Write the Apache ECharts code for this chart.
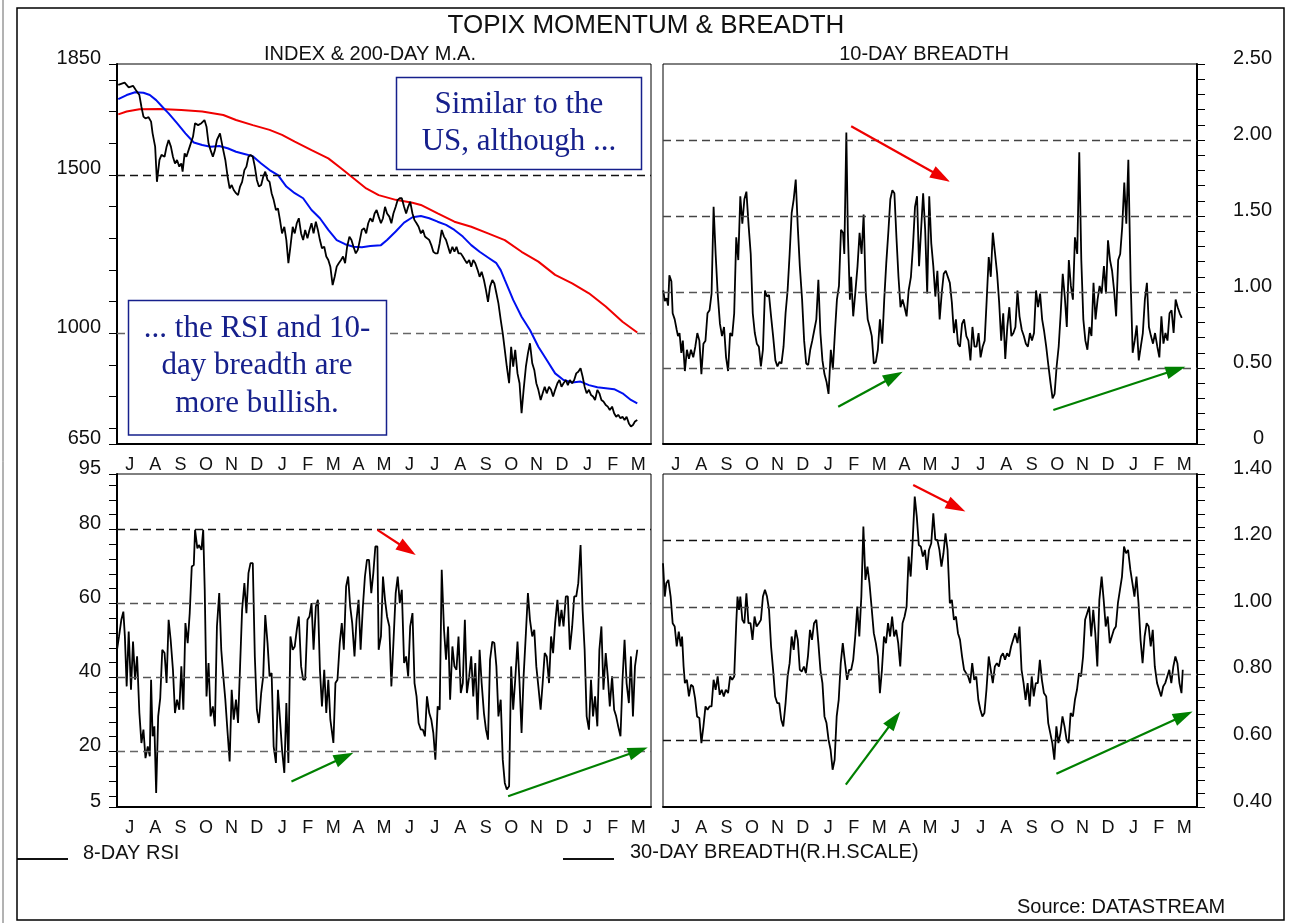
<!DOCTYPE html>
<html>
<head>
<meta charset="utf-8">
<title>TOPIX Momentum & Breadth</title>
<script src="https://cdn.jsdelivr.net/npm/echarts@6.0.0/dist/echarts.min.js"></script>
<style>
  html, body { margin: 0; padding: 0; background: #fff; }
  #chart { width: 1294px; height: 923px; }
</style>
</head>
<body>
<div id="chart"></div>
<script>
// month letters, July .. March (21 months)
const months = ['J','A','S','O','N','D','J','F','M','A','M','J','J','A','S','O','N','D','J','F','M'];

// axis ticks and labels
const indexTicks = [650,700,800,900,1000,1100,1200,1300,1400,1500,1600,1700,1800,1850];
const indexLabels = [650,1000,1500,1850];
const indexRefLines = [1500,1000];
const breadth10Ticks = [0,0.1,0.2,0.3,0.4,0.5,0.6,0.7,0.8,0.9,1,1.1,1.2,1.3,1.4,1.5,1.6,1.7,1.8,1.9,2,2.1,2.2,2.3,2.4,2.5];
const breadth10Labels = [0,0.5,1,1.5,2,2.5];
const breadth10RefLines = [2,1.5,1,0.5];
const rsiTicks = [5,8,12,16,20,24,28,32,36,40,44,48,52,56,60,64,68,72,76,80,84,88,92,95];
const rsiLabels = [5,20,40,60,80,95];
const rsiRefLines = [80,60,40,20];
const breadth30Ticks = [0.4,0.44,0.48,0.52,0.56,0.6,0.64,0.68,0.72,0.76,0.8,0.84,0.88,0.92,0.96,1,1.04,1.08,1.12,1.16,1.2,1.24,1.28,1.32,1.36,1.4];
const breadth30Labels = [0.4,0.6,0.8,1,1.2,1.4];
const breadth30RefLines = [1.2,1,0.8,0.6];

// series, as [months since start of July, value]
const topixIndex = [[0.05,1784],[0.30,1791],[0.46,1776],[0.63,1781],[0.74,1768],[0.88,1752],[0.96,1715],[1.04,1684],[1.12,1678],[1.24,1682],[1.34,1668],[1.40,1631],[1.50,1589],[1.57,1478],[1.67,1547],[1.75,1563],[1.87,1557],[1.95,1589],[2.03,1610],[2.12,1589],[2.20,1557],[2.28,1536],[2.36,1547],[2.45,1526],[2.53,1536],[2.58,1510],[2.66,1568],[2.73,1557],[2.86,1589],[2.99,1621],[3.07,1663],[3.19,1657],[3.32,1663],[3.44,1673],[3.52,1652],[3.60,1599],[3.68,1578],[3.77,1557],[3.85,1578],[3.93,1610],[4.05,1631],[4.15,1589],[4.26,1547],[4.35,1494],[4.43,1457],[4.51,1468],[4.59,1452],[4.68,1442],[4.76,1436],[4.84,1463],[4.92,1478],[5.01,1515],[5.09,1526],[5.17,1557],[5.25,1563],[5.34,1557],[5.42,1526],[5.50,1484],[5.58,1463],[5.67,1468],[5.75,1494],[5.83,1510],[5.92,1484],[6.00,1478],[6.08,1442],[6.16,1421],[6.25,1389],[6.33,1394],[6.41,1357],[6.49,1315],[6.58,1336],[6.66,1294],[6.74,1221],[6.82,1273],[6.91,1336],[6.99,1315],[7.07,1347],[7.15,1363],[7.24,1315],[7.32,1294],[7.40,1326],[7.49,1300],[7.57,1326],[7.65,1347],[7.73,1315],[7.82,1352],[7.90,1326],[7.98,1294],[8.06,1268],[8.15,1273],[8.23,1242],[8.31,1231],[8.39,1210],[8.48,1152],[8.56,1178],[8.64,1210],[8.72,1221],[8.81,1231],[8.89,1242],[8.97,1221],[9.05,1273],[9.14,1305],[9.22,1294],[9.30,1273],[9.39,1252],[9.47,1263],[9.55,1294],[9.63,1326],[9.72,1331],[9.80,1315],[9.88,1347],[9.96,1363],[10.05,1352],[10.13,1378],[10.21,1389],[10.29,1368],[10.38,1347],[10.46,1363],[10.54,1399],[10.62,1378],[10.71,1368],[10.79,1347],[10.87,1378],[10.96,1399],[11.04,1421],[11.12,1426],[11.20,1426],[11.29,1399],[11.37,1378],[11.45,1399],[11.53,1415],[11.62,1378],[11.70,1357],[11.78,1347],[11.86,1336],[11.95,1315],[12.03,1326],[12.11,1305],[12.19,1300],[12.28,1294],[12.36,1278],[12.44,1257],[12.52,1252],[12.61,1252],[12.69,1284],[12.77,1326],[12.86,1305],[12.94,1294],[13.02,1273],[13.10,1252],[13.19,1273],[13.27,1257],[13.35,1273],[13.43,1252],[13.52,1252],[13.60,1242],[13.68,1231],[13.76,1221],[13.85,1231],[13.93,1210],[14.01,1231],[14.09,1221],[14.18,1200],[14.26,1178],[14.34,1194],[14.43,1168],[14.51,1136],[14.59,1099],[14.67,1147],[14.76,1168],[14.84,1157],[14.92,1126],[15.00,1094],[15.09,1042],[15.17,999],[15.25,947],[15.33,894],[15.42,842],[15.50,957],[15.58,894],[15.66,947],[15.75,873],[15.83,842],[15.91,747],[15.99,821],[16.08,894],[16.16,936],[16.24,968],[16.33,905],[16.41,884],[16.49,842],[16.57,821],[16.66,789],[16.74,810],[16.82,831],[16.90,810],[16.99,831],[17.07,821],[17.15,800],[17.23,821],[17.32,842],[17.40,852],[17.48,831],[17.56,842],[17.65,852],[17.73,836],[17.81,852],[17.90,842],[17.98,852],[18.06,873],[18.14,878],[18.23,889],[18.31,863],[18.39,831],[18.47,810],[18.56,821],[18.64,805],[18.72,800],[18.80,789],[18.89,821],[18.97,810],[19.05,789],[19.13,784],[19.22,773],[19.30,768],[19.38,757],[19.47,768],[19.55,747],[19.63,736],[19.71,742],[19.80,731],[19.88,736],[19.96,726],[20.04,736],[20.13,715],[20.21,705],[20.29,710],[20.37,721],[20.46,726]];
const ma200 = [[0.05,1691],[0.38,1700],[0.88,1707],[1.70,1708],[2.53,1705],[3.35,1700],[4.18,1689],[4.68,1673],[5.34,1657],[6.00,1642],[6.49,1626],[6.99,1605],[7.65,1578],[8.31,1552],[8.81,1521],[9.30,1489],[9.80,1457],[10.29,1436],[10.96,1421],[11.62,1412],[11.95,1405],[12.61,1378],[13.27,1352],[13.93,1336],[14.59,1315],[15.25,1294],[15.91,1257],[16.57,1226],[17.23,1184],[17.90,1157],[18.56,1126],[19.22,1084],[19.88,1036],[20.46,1002]];
const maShort = [[0.05,1739],[0.38,1752],[0.71,1761],[1.04,1759],[1.29,1752],[1.54,1736],[1.78,1715],[2.03,1694],[2.36,1663],[2.69,1631],[3.02,1602],[3.35,1594],[3.68,1589],[4.02,1591],[4.35,1584],[4.68,1573],[5.01,1566],[5.34,1559],[5.67,1536],[6.00,1515],[6.33,1499],[6.66,1463],[6.99,1442],[7.32,1426],[7.65,1389],[7.98,1363],[8.31,1326],[8.64,1294],[8.97,1281],[9.30,1273],[9.63,1271],[9.96,1275],[10.38,1278],[10.62,1294],[10.96,1321],[11.29,1349],[11.62,1366],[11.95,1370],[12.28,1363],[12.61,1352],[12.94,1342],[13.27,1326],[13.60,1305],[13.93,1278],[14.26,1257],[14.59,1239],[14.92,1221],[15.09,1199],[15.25,1168],[15.42,1136],[15.58,1105],[15.91,1052],[16.24,1010],[16.57,957],[16.90,915],[17.23,873],[17.56,852],[17.90,844],[18.23,847],[18.56,836],[18.89,829],[19.22,826],[19.55,823],[19.88,810],[20.21,789],[20.46,778]];
const breadth10 = [[0.01,1.01],[0.07,0.94],[0.14,0.96],[0.20,0.91],[0.25,1.11],[0.33,1.07],[0.38,0.86],[0.46,0.82],[0.54,0.75],[0.59,0.71],[0.65,0.73],[0.72,0.60],[0.78,0.68],[0.86,0.48],[0.94,0.62],[1.02,0.56],[1.10,0.62],[1.19,0.57],[1.27,0.64],[1.35,0.73],[1.43,0.68],[1.51,0.46],[1.59,0.66],[1.67,0.68],[1.75,0.86],[1.83,0.88],[1.91,0.99],[1.99,1.56],[2.07,1.25],[2.15,0.99],[2.24,0.79],[2.32,0.71],[2.40,0.77],[2.48,0.57],[2.56,0.48],[2.64,0.73],[2.72,0.71],[2.80,0.86],[2.88,1.36],[2.96,1.21],[3.04,1.63],[3.12,1.45],[3.20,1.61],[3.28,1.66],[3.37,1.43],[3.45,1.25],[3.53,0.86],[3.61,0.73],[3.69,0.66],[3.77,0.64],[3.85,0.51],[3.93,0.62],[4.01,1.01],[4.09,0.97],[4.17,0.98],[4.25,0.84],[4.33,0.71],[4.42,0.55],[4.50,0.51],[4.58,0.54],[4.66,0.53],[4.74,0.64],[4.82,0.86],[4.90,1.01],[4.98,1.25],[5.06,1.52],[5.14,1.61],[5.22,1.74],[5.30,1.43],[5.38,1.17],[5.47,0.95],[5.55,0.68],[5.63,0.53],[5.71,0.52],[5.79,0.62],[5.87,0.68],[5.95,0.75],[6.03,0.82],[6.11,1.08],[6.19,0.73],[6.27,0.55],[6.35,0.46],[6.43,0.41],[6.51,0.33],[6.60,0.62],[6.68,0.49],[6.76,0.73],[6.84,0.95],[6.92,1.04],[7.00,1.41],[7.08,1.39],[7.13,1.25],[7.21,2.05],[7.27,1.39],[7.35,0.95],[7.40,1.10],[7.48,0.84],[7.56,0.99],[7.65,1.17],[7.73,1.39],[7.81,1.25],[7.89,1.51],[7.97,1.01],[8.05,0.82],[8.13,0.77],[8.21,0.71],[8.29,0.53],[8.37,0.54],[8.45,0.62],[8.53,0.82],[8.62,0.66],[8.70,0.95],[8.78,1.19],[8.86,1.39],[8.94,1.61],[9.02,1.67],[9.10,1.65],[9.18,1.36],[9.26,1.10],[9.34,0.90],[9.42,0.95],[9.50,0.90],[9.58,0.84],[9.66,1.01],[9.75,1.10],[9.83,1.30],[9.91,1.56],[9.99,1.63],[10.07,1.17],[10.15,1.41],[10.23,1.65],[10.31,1.41],[10.39,0.99],[10.47,1.63],[10.55,1.32],[10.63,1.17],[10.71,0.97],[10.79,1.14],[10.88,0.82],[10.96,0.99],[11.04,1.12],[11.12,1.14],[11.20,1.10],[11.28,1.06],[11.36,0.93],[11.44,0.73],[11.52,0.82],[11.60,0.66],[11.68,0.64],[11.76,0.79],[11.84,0.82],[11.93,0.71],[12.01,0.68],[12.09,0.55],[12.17,0.77],[12.25,0.64],[12.33,0.64],[12.41,0.73],[12.49,0.57],[12.57,0.64],[12.65,0.68],[12.73,0.95],[12.81,1.23],[12.89,1.10],[12.97,1.39],[13.06,1.25],[13.14,1.12],[13.22,0.93],[13.30,0.68],[13.38,0.86],[13.46,0.56],[13.54,0.77],[13.62,0.90],[13.70,0.71],[13.78,0.73],[13.86,0.77],[13.94,1.01],[14.02,0.84],[14.11,0.75],[14.19,0.71],[14.27,0.66],[14.35,0.64],[14.43,0.73],[14.51,0.68],[14.59,0.73],[14.67,1.01],[14.75,0.90],[14.83,0.99],[14.91,0.82],[14.99,0.74],[15.07,0.64],[15.16,0.51],[15.24,0.40],[15.32,0.30],[15.40,0.33],[15.48,0.51],[15.56,0.64],[15.64,0.86],[15.72,1.12],[15.80,0.97],[15.88,0.77],[15.96,1.21],[16.04,1.04],[16.12,0.95],[16.20,1.36],[16.29,1.25],[16.37,1.92],[16.45,1.21],[16.53,0.82],[16.61,0.68],[16.69,0.62],[16.77,0.77],[16.85,0.71],[16.93,1.06],[17.01,0.82],[17.09,0.95],[17.17,1.04],[17.25,0.99],[17.34,1.17],[17.42,0.99],[17.50,1.34],[17.58,1.21],[17.66,1.14],[17.74,1.01],[17.82,0.84],[17.90,1.21],[17.98,1.25],[18.06,1.43],[18.14,1.72],[18.22,1.45],[18.30,1.87],[18.39,1.08],[18.47,0.60],[18.55,0.68],[18.63,0.78],[18.71,0.55],[18.79,0.64],[18.87,0.73],[18.95,0.95],[19.03,1.06],[19.11,0.77],[19.19,0.71],[19.27,0.66],[19.35,0.73],[19.44,0.64],[19.52,0.57],[19.60,0.84],[19.68,0.66],[19.76,0.73],[19.84,0.68],[19.92,0.86],[20.00,0.88],[20.08,0.73],[20.16,0.95],[20.24,0.90],[20.32,0.86],[20.40,0.83]];
const rsi8 = [[0.00,47.5],[0.08,51.1],[0.17,55.6],[0.25,57.8],[0.31,51.1],[0.38,37.6],[0.46,52.4],[0.55,36.7],[0.63,49.7],[0.71,39.4],[0.79,45.7],[0.88,30.4],[0.96,22.3],[1.04,25.9],[1.12,18.2],[1.21,21.4],[1.29,18.7],[1.34,39.4],[1.40,24.1],[1.47,26.8],[1.54,8.8],[1.62,29.5],[1.70,34.4],[1.78,47.5],[1.87,46.6],[1.95,38.5],[2.03,55.6],[2.11,50.2],[2.20,42.1],[2.28,30.4],[2.36,34.0],[2.45,31.3],[2.53,43.0],[2.61,31.3],[2.69,54.7],[2.78,49.3],[2.86,57.4],[2.94,70.0],[3.02,70.4],[3.07,79.9],[3.16,74.9],[3.22,75.8],[3.32,74.5],[3.39,79.9],[3.45,63.7],[3.52,34.9],[3.60,43.9],[3.68,29.5],[3.77,32.2],[3.85,26.8],[3.93,53.8],[4.02,62.8],[4.10,47.5],[4.18,40.3],[4.26,34.0],[4.35,25.0],[4.43,17.3],[4.51,36.7],[4.59,28.6],[4.68,34.0],[4.76,27.7],[4.84,43.0],[4.92,58.3],[5.01,65.5],[5.09,57.4],[5.17,68.2],[5.25,70.9],[5.34,70.9],[5.42,45.7],[5.50,31.3],[5.58,27.7],[5.67,35.8],[5.75,40.3],[5.83,56.9],[5.92,49.3],[6.00,40.3],[6.08,41.2],[6.16,21.4],[6.25,16.9],[6.33,36.7],[6.41,28.6],[6.49,20.5],[6.58,14.2],[6.66,33.1],[6.74,16.9],[6.82,51.1],[6.91,47.5],[6.99,48.4],[7.07,52.9],[7.15,56.5],[7.24,43.0],[7.32,39.4],[7.40,39.4],[7.49,55.6],[7.57,56.5],[7.65,60.1],[7.73,47.5],[7.82,59.2],[7.90,61.0],[7.98,42.1],[8.06,32.2],[8.15,42.1],[8.23,30.4],[8.31,39.4],[8.39,28.6],[8.51,22.3],[8.59,38.5],[8.67,39.4],[8.76,49.3],[8.84,54.7],[8.92,47.5],[9.01,64.6],[9.09,67.3],[9.17,59.2],[9.25,54.7],[9.34,45.7],[9.42,55.6],[9.50,61.0],[9.58,47.5],[9.67,59.2],[9.75,67.3],[9.83,71.8],[9.91,71.8],[10.00,62.8],[10.08,68.2],[10.16,75.4],[10.24,75.4],[10.29,47.5],[10.38,51.1],[10.46,67.3],[10.54,61.0],[10.62,56.5],[10.71,53.8],[10.79,37.6],[10.87,49.3],[10.96,62.8],[11.04,67.3],[11.12,60.1],[11.20,63.7],[11.29,43.9],[11.37,45.7],[11.45,40.3],[11.53,53.8],[11.62,57.4],[11.70,38.5],[11.78,34.9],[11.86,27.7],[11.95,25.9],[12.03,25.9],[12.11,24.1],[12.19,34.9],[12.28,30.4],[12.36,28.6],[12.44,25.0],[12.52,17.8],[12.61,32.2],[12.69,31.3],[12.77,69.1],[12.86,52.9],[12.94,44.8],[13.02,53.8],[13.10,34.0],[13.19,48.4],[13.27,43.0],[13.35,42.1],[13.43,51.1],[13.52,35.8],[13.60,38.5],[13.68,55.6],[13.76,35.8],[13.85,40.3],[13.93,45.7],[14.01,34.9],[14.09,43.9],[14.18,28.6],[14.26,47.5],[14.34,38.5],[14.43,30.4],[14.51,25.9],[14.59,23.2],[14.67,44.8],[14.76,49.7],[14.84,49.3],[14.92,43.0],[15.00,29.5],[15.09,34.0],[15.17,17.8],[15.25,11.5],[15.33,9.7],[15.42,10.6],[15.50,43.0],[15.58,31.3],[15.66,39.4],[15.75,49.7],[15.83,38.5],[15.91,25.0],[15.99,40.3],[16.08,52.0],[16.16,62.8],[16.24,55.6],[16.33,51.1],[16.41,52.9],[16.49,43.0],[16.57,37.6],[16.66,31.3],[16.74,38.5],[16.82,46.6],[16.90,45.7],[16.99,38.5],[17.07,51.1],[17.15,46.6],[17.23,54.7],[17.32,61.0],[17.40,53.8],[17.48,58.3],[17.56,53.8],[17.65,61.9],[17.73,61.9],[17.81,47.5],[17.90,53.8],[17.98,61.9],[18.06,61.9],[18.14,65.5],[18.23,75.8],[18.31,58.3],[18.39,47.5],[18.47,29.5],[18.56,25.9],[18.64,39.4],[18.72,29.5],[18.80,34.9],[18.89,26.8],[18.97,47.5],[19.05,53.8],[19.13,36.7],[19.22,46.6],[19.30,40.3],[19.38,32.2],[19.47,40.3],[19.55,31.3],[19.63,29.5],[19.71,26.8],[19.80,24.1],[19.88,39.4],[19.96,50.2],[20.04,38.5],[20.13,33.1],[20.21,45.7],[20.29,29.5],[20.37,43.0],[20.46,47.5]];
const breadth30 = [[0.00,1.132],[0.07,1.032],[0.13,1.072],[0.21,1.082],[0.30,1.032],[0.38,0.952],[0.46,0.942],[0.54,0.882],[0.62,0.927],[0.70,0.882],[0.75,0.912],[0.81,0.822],[0.86,0.772],[0.94,0.782],[1.02,0.732],[1.10,0.767],[1.18,0.762],[1.26,0.727],[1.34,0.672],[1.43,0.667],[1.51,0.592],[1.59,0.642],[1.67,0.702],[1.75,0.692],[1.83,0.702],[1.91,0.702],[1.99,0.782],[2.07,0.752],[2.15,0.792],[2.23,0.737],[2.31,0.752],[2.39,0.732],[2.47,0.752],[2.56,0.742],[2.64,0.792],[2.72,0.782],[2.80,0.792],[2.88,0.952],[2.93,1.032],[2.99,0.992],[3.04,1.032],[3.12,0.962],[3.20,0.952],[3.28,1.042],[3.36,0.952],[3.44,0.952],[3.52,0.902],[3.60,0.972],[3.68,0.942],[3.77,0.952],[3.85,0.962],[3.93,1.032],[4.01,1.052],[4.09,1.032],[4.17,0.992],[4.25,0.882],[4.33,0.812],[4.41,0.732],[4.49,0.712],[4.57,0.712],[4.65,0.662],[4.73,0.642],[4.82,0.712],[4.90,0.792],[4.98,0.832],[5.06,0.912],[5.14,0.872],[5.22,0.932],[5.30,0.902],[5.38,0.812],[5.46,0.807],[5.54,0.822],[5.62,0.802],[5.70,0.852],[5.78,0.932],[5.86,0.902],[5.94,0.952],[6.03,0.962],[6.11,0.892],[6.19,0.812],[6.27,0.772],[6.35,0.672],[6.43,0.652],[6.51,0.602],[6.59,0.572],[6.67,0.512],[6.75,0.542],[6.83,0.672],[6.91,0.722],[6.99,0.832],[7.07,0.892],[7.16,0.832],[7.24,0.782],[7.32,0.812],[7.40,0.812],[7.48,0.842],[7.56,0.912],[7.64,1.002],[7.72,0.912],[7.80,1.032],[7.88,1.242],[7.96,1.082],[8.04,1.122],[8.12,1.072],[8.20,1.002],[8.29,0.922],[8.37,0.892],[8.45,0.852],[8.53,0.742],[8.61,0.812],[8.69,0.912],[8.77,0.892],[8.85,0.952],[8.93,0.912],[9.01,0.972],[9.09,0.912],[9.17,0.932],[9.25,0.892],[9.33,0.822],[9.42,0.952],[9.50,0.972],[9.58,1.002],[9.66,1.152],[9.74,1.092],[9.82,1.202],[9.90,1.332],[9.98,1.272],[10.06,1.187],[10.14,1.182],[10.22,1.152],[10.30,1.172],[10.38,1.112],[10.46,1.172],[10.55,1.192],[10.63,1.282],[10.71,1.202],[10.79,1.202],[10.87,1.172],[10.95,1.122],[11.03,1.162],[11.11,1.222],[11.19,1.172],[11.28,1.012],[11.36,1.022],[11.44,0.962],[11.52,0.972],[11.60,0.922],[11.68,0.902],[11.76,0.852],[11.84,0.812],[11.92,0.802],[12.00,0.792],[12.08,0.772],[12.16,0.832],[12.24,0.782],[12.32,0.792],[12.40,0.722],[12.48,0.692],[12.56,0.672],[12.64,0.682],[12.72,0.752],[12.81,0.852],[12.89,0.812],[12.97,0.772],[13.05,0.822],[13.13,0.832],[13.21,0.822],[13.29,0.852],[13.37,0.862],[13.45,0.842],[13.53,0.862],[13.61,0.852],[13.69,0.882],[13.77,0.902],[13.85,0.922],[13.94,0.892],[14.02,0.942],[14.10,0.812],[14.18,0.772],[14.26,0.722],[14.34,0.772],[14.42,0.702],[14.50,0.792],[14.58,0.732],[14.66,0.772],[14.74,0.772],[14.82,0.842],[14.90,0.782],[14.98,0.742],[15.07,0.732],[15.15,0.652],[15.23,0.622],[15.31,0.592],[15.39,0.542],[15.47,0.642],[15.55,0.592],[15.63,0.622],[15.71,0.672],[15.79,0.642],[15.87,0.602],[15.95,0.592],[16.03,0.682],[16.12,0.672],[16.20,0.722],[16.28,0.752],[16.36,0.802],[16.44,0.792],[16.52,0.852],[16.60,0.962],[16.68,0.982],[16.76,1.002],[16.84,0.912],[16.92,0.992],[17.00,0.922],[17.08,0.822],[17.16,1.022],[17.25,1.092],[17.33,1.022],[17.41,0.942],[17.49,0.972],[17.57,0.892],[17.65,0.912],[17.73,0.932],[17.81,0.942],[17.89,1.012],[17.97,1.052],[18.05,1.092],[18.13,1.182],[18.21,1.162],[18.29,1.172],[18.38,1.112],[18.46,1.072],[18.54,1.032],[18.62,1.092],[18.70,1.012],[18.78,0.902],[18.86,0.832],[18.94,0.912],[19.02,0.952],[19.10,0.942],[19.18,0.882],[19.26,0.932],[19.34,0.822],[19.43,0.772],[19.51,0.752],[19.59,0.732],[19.67,0.762],[19.75,0.772],[19.83,0.792],[19.91,0.812],[19.99,0.772],[20.07,0.822],[20.15,0.852],[20.23,0.832],[20.31,0.772],[20.39,0.742],[20.44,0.812]];

// annotation arrows: [tail, centre of head] in data units
const breadth10Down = [[[7.40,2.09],[10.94,1.758]]];
const breadth10Up = [[[6.89,0.245],[9.08,0.444]],[[15.35,0.224],[20.17,0.488]]];
const rsiDown = [[[10.24,79.9],[11.42,74.6]]];
const rsiUp = [[[6.86,11.9],[8.94,18.5]],[[15.38,7.9],[20.50,20.2]]];
const breadth30Down = [[[9.84,1.367],[11.54,1.301]]];
const breadth30Up = [[[7.19,0.467],[9.10,0.663]],[[15.47,0.50],[20.47,0.674]]];

const FONT = '"Liberation Sans", Arial, sans-serif';
const SERIF = '"Liberation Serif", "Times New Roman", serif';
const NAVY = '#16208c';

// panel rectangles (TL, TR, BL, BR)
const panels = [
  { left: 117, top: 64, width: 534, height: 380 },
  { left: 663, top: 64, width: 534, height: 380 },
  { left: 117, top: 474, width: 534, height: 333 },
  { left: 663, top: 474, width: 534, height: 333 }
];

function monthAxes(i) {
  return [
    { type: 'value', gridIndex: i, min: 0, max: 21, show: false, axisLine: { onZero: false } },
    {
      type: 'category', gridIndex: i, position: 'bottom', data: months, boundaryGap: true,
      axisLine: { onZero: false, lineStyle: { color: '#000', width: 2 } },
      axisTick: { interval: 0, length: 6, lineStyle: { color: '#000', width: 1 } },
      axisLabel: { interval: 0, margin: 12, fontSize: 18, fontFamily: FONT, color: '#111' },
      splitLine: { show: false }
    }
  ];
}

function valueAxis(i, pos, min, max, ticks, labels, fmt) {
  return {
    type: 'value', gridIndex: i, position: pos, min: min, max: max,
    axisLine: { show: true, onZero: false, lineStyle: { color: '#000', width: 2 } },
    axisTick: { show: true, customValues: ticks, length: 8, lineStyle: { color: '#000', width: 1 } },
    axisLabel: {
      customValues: labels, formatter: fmt,
      fontSize: 20, fontFamily: FONT, color: '#111',
      align: 'right', margin: pos === 'left' ? 16 : 75,
      padding: [0, 0, 12, 0],
      rich: { z: { fontSize: 20, fontFamily: FONT, color: '#111', padding: [0, 8, 0, 0] } }
    },
    splitLine: { show: false }
  };
}

function refLines(values, colors) {
  return values.map((v, k) => ({
    yAxis: v,
    lineStyle: { color: colors[k], type: [8, 5], width: 1.3 }
  }));
}

function arrows(pairs, color) {
  return pairs.map(p => [
    { coord: p[0], symbol: 'none', lineStyle: { color: color, width: 2.2, type: 'solid' } },
    { coord: p[1], symbol: 'triangle', symbolSize: [13, 20], lineStyle: { color: color, width: 2.2, type: 'solid' }, itemStyle: { color: color } }
  ]);
}

function markLines(lines) {
  return {
    silent: true, animation: false, symbol: ['none', 'none'],
    label: { show: false }, emphasis: { disabled: true },
    data: lines
  };
}

function line(data, xi, yi, color, width, z, marks) {
  const s = {
    type: 'line', data: data, xAxisIndex: xi, yAxisIndex: yi,
    showSymbol: false, symbol: 'none', z: z,
    lineStyle: { color: color, width: width },
    emphasis: { disabled: true }
  };
  if (marks) s.markLine = markLines(marks);
  return s;
}

const fix2 = v => v.toFixed(2);

const chart = echarts.init(document.getElementById('chart'), null, { renderer: 'canvas' });

chart.setOption({
  animation: false,
  backgroundColor: '#fff',
  grid: panels.map(p => Object.assign({ show: true, borderColor: '#000', borderWidth: 1, backgroundColor: '#fff' }, p)),
  xAxis: [].concat(monthAxes(0), monthAxes(1), monthAxes(2), monthAxes(3)),
  yAxis: [
    valueAxis(0, 'left', 650, 1850, indexTicks, indexLabels, v => String(v)),
    valueAxis(1, 'right', 0, 2.5, breadth10Ticks, breadth10Labels, v => v === 0 ? '{z|0}' : fix2(v)),
    valueAxis(2, 'left', 5, 95, rsiTicks, rsiLabels, v => String(v)),
    valueAxis(3, 'right', 0.4, 1.4, breadth30Ticks, breadth30Labels, fix2)
  ],
  series: [
    line(ma200, 0, 0, '#f00000', 2, 2, refLines(indexRefLines, ['#111', '#666'])),
    line(maShort, 0, 0, '#0010f0', 2, 3),
    line(topixIndex, 0, 0, '#000', 1.8, 4),
    line(breadth10, 2, 1, '#000', 1.8, 4,
      refLines(breadth10RefLines, ['#444', '#444', '#555', '#555'])
        .concat(arrows(breadth10Down, '#ee0000'), arrows(breadth10Up, '#008000'))),
    line(rsi8, 4, 2, '#000', 1.8, 4,
      refLines(rsiRefLines, ['#111', '#555', '#555', '#666'])
        .concat(arrows(rsiDown, '#ee0000'), arrows(rsiUp, '#008000'))),
    line(breadth30, 6, 3, '#000', 1.8, 4,
      refLines(breadth30RefLines, ['#111', '#444', '#666', '#111'])
        .concat(arrows(breadth30Down, '#ee0000'), arrows(breadth30Up, '#008000')))
  ],
  graphic: [
    // outer frame
    { type: 'rect', shape: { x: 17, y: 8, width: 1267, height: 912 }, style: { fill: 'none', stroke: '#000', lineWidth: 1.5 }, z: 1 },
    { type: 'line', shape: { x1: 3, y1: 0, x2: 3, y2: 923 }, style: { stroke: '#666', lineWidth: 1 } },
    // titles
    { type: 'text', x: 646, y: 26, style: { text: 'TOPIX MOMENTUM & BREADTH', font: '26px ' + FONT, fill: '#111', align: 'center', verticalAlign: 'middle' } },
    { type: 'text', x: 370, y: 54, style: { text: 'INDEX & 200-DAY M.A.', font: '20px ' + FONT, fill: '#111', align: 'center', verticalAlign: 'middle' } },
    { type: 'text', x: 924, y: 54, style: { text: '10-DAY BREADTH', font: '20px ' + FONT, fill: '#111', align: 'center', verticalAlign: 'middle' } },
    // comment boxes
    { type: 'rect', shape: { x: 396.5, y: 77.5, width: 245, height: 92 }, style: { fill: '#fff', stroke: NAVY, lineWidth: 1.5 }, z: 50 },
    { type: 'text', x: 519, y: 123, z: 51, style: { text: 'Similar to the\nUS, although ...', font: '31px ' + SERIF, fill: NAVY, align: 'center', verticalAlign: 'middle', lineHeight: 37 } },
    { type: 'rect', shape: { x: 128.5, y: 300.5, width: 258, height: 134.5 }, style: { fill: '#fff', stroke: NAVY, lineWidth: 1.5 }, z: 50 },
    { type: 'text', x: 257, y: 366, z: 51, style: { text: '... the RSI and 10-\nday breadth are\nmore bullish.', font: '31px ' + SERIF, fill: NAVY, align: 'center', verticalAlign: 'middle', lineHeight: 37.5 } },
    // legend
    { type: 'line', shape: { x1: 17, y1: 859, x2: 68, y2: 859 }, style: { stroke: '#111', lineWidth: 2 } },
    { type: 'text', x: 83, y: 853, style: { text: '8-DAY RSI', font: '20px ' + FONT, fill: '#111', align: 'left', verticalAlign: 'middle' } },
    { type: 'line', shape: { x1: 563, y1: 859, x2: 614, y2: 859 }, style: { stroke: '#111', lineWidth: 2 } },
    { type: 'text', x: 630, y: 852, style: { text: '30-DAY BREADTH(R.H.SCALE)', font: '20px ' + FONT, fill: '#111', align: 'left', verticalAlign: 'middle' } },
    { type: 'text', x: 1017, y: 907, style: { text: 'Source: DATASTREAM', font: '20px ' + FONT, fill: '#111', align: 'left', verticalAlign: 'middle' } }
  ]
});
</script>
</body>
</html>
